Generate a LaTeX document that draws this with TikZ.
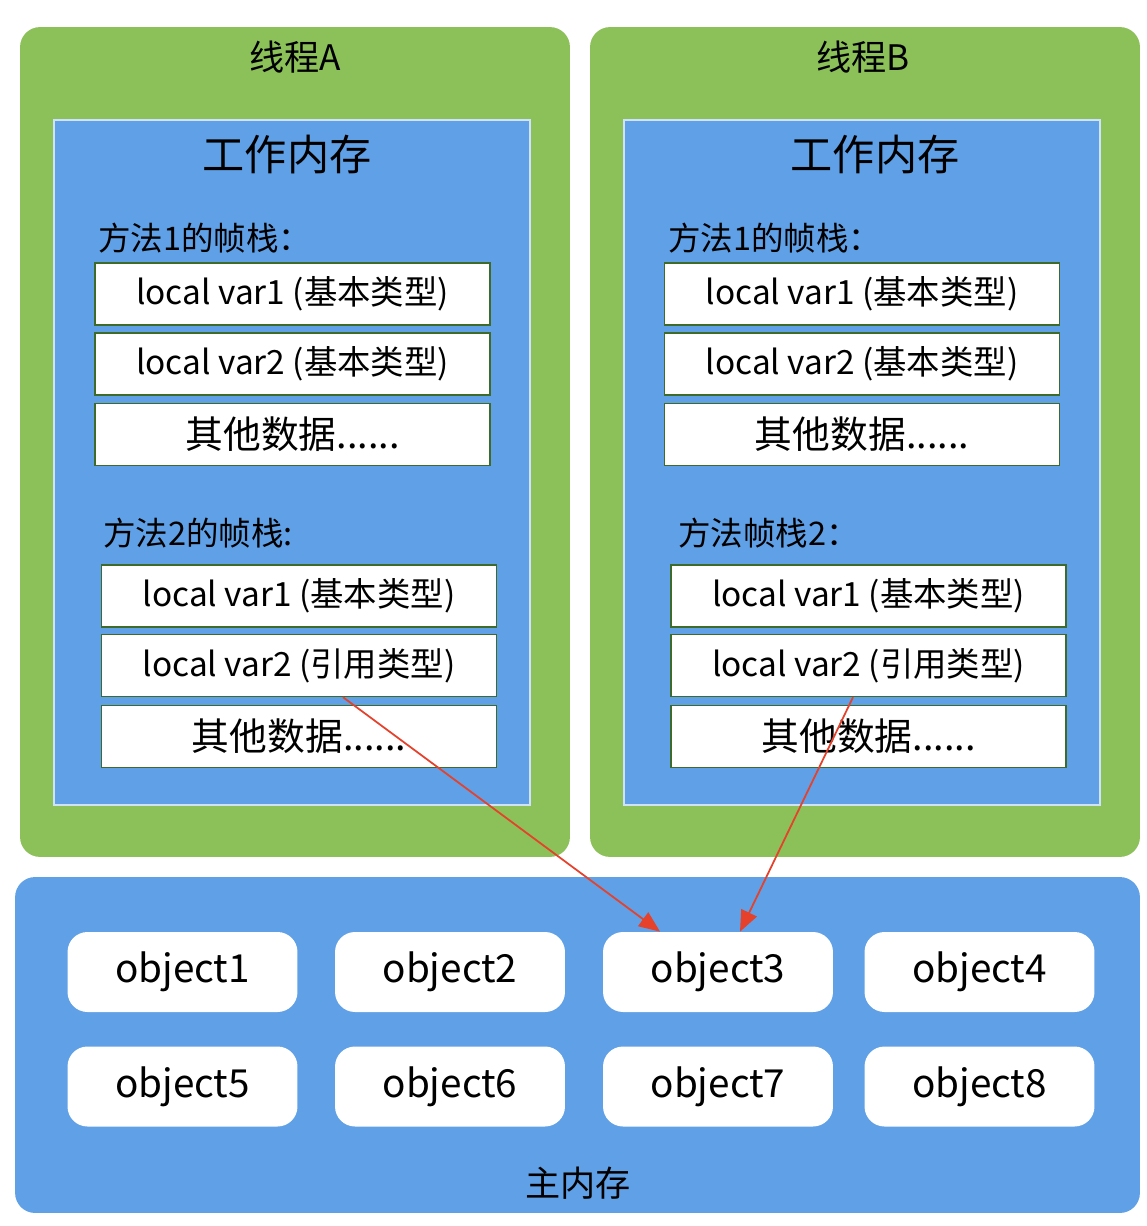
\documentclass[tikz,border=0pt]{standalone}
\usepackage{fontspec}
\setmainfont{Noto Sans CJK SC}
\usetikzlibrary{arrows.meta,positioning}
\definecolor{threadgreen}{HTML}{8CC058}
\definecolor{memblue}{HTML}{5FA0E6}
\definecolor{slotborder}{HTML}{3E6B2A}
\definecolor{refred}{HTML}{E5412B}
\tikzset{
  thread/.style={fill=threadgreen, rounded corners=0.4cm, minimum width=11cm, minimum height=16.6cm},
  workmem/.style={fill=memblue, draw=white!70!memblue, line width=1.2pt, minimum width=9.52cm, minimum height=13.7cm},
  slot/.style={fill=white, draw=slotborder, line width=0.8pt, minimum width=7.9cm, minimum height=1.24cm, font=\fontsize{19}{22}\selectfont},
  other/.style={slot, font=\fontsize{21.5}{25}\selectfont},
  framelabel/.style={anchor=west, font=\fontsize{18.5}{22}\selectfont},
  obj/.style={fill=white, rounded corners=0.4cm, minimum width=4.6cm, minimum height=1.6cm, font=\fontsize{22}{26}\selectfont},
  refarrow/.style={refred, line width=1pt, -{Triangle[length=0.42cm,width=0.34cm]}}
}

\begin{document}
\begin{tikzpicture}[x=0.02cm,y=-0.02cm]
        \useasboundingbox (0,0) rectangle (1146,1226);
        % Thread A
        \node[thread] (threadA) at (295,442) {};
        \node[font=\fontsize{20}{24}\selectfont] (titleA) at (295,57) {线程A};
        \node[workmem] (workA) at (292,462.5) {};
        \node[font=\fontsize{24}{28}\selectfont] (wtitleA) at (287,155) {工作内存};
        \node[framelabel] (fA1) at (92,238) {方法1的帧栈：};
        \node[slot] (a1v1) at (292.5,294) {local var1 (基本类型)};
        \node[slot] (a1v2) at (292.5,364) {local var2 (基本类型)};
        \node[other] (a1x) at (292.5,434.5) {其他数据......};
        \node[framelabel] (fA2) at (97,533) {方法2的帧栈:};
        \node[slot] (a2v1) at (299,596) {local var1 (基本类型)};
        \node[slot] (a2v2) at (299,665.5) {local var2 (引用类型)};
        \node[other] (a2x) at (299,736.5) {其他数据......};

        % Thread B
        \node[thread] (threadB) at (865,442) {};
        \node[font=\fontsize{20}{24}\selectfont] (titleB) at (863,57) {线程B};
        \node[workmem] (workB) at (862,462.5) {};
        \node[font=\fontsize{24}{28}\selectfont] (wtitleB) at (875,155) {工作内存};
        \node[framelabel] (fB1) at (662,238) {方法1的帧栈：};
        \node[slot] (b1v1) at (862,294) {local var1 (基本类型)};
        \node[slot] (b1v2) at (862,364) {local var2 (基本类型)};
        \node[other] (b1x) at (862,434.5) {其他数据......};
        \node[framelabel] (fB2) at (672,533) {方法帧栈2：};
        \node[slot] (b2v1) at (868.5,596) {local var1 (基本类型)};
        \node[slot] (b2v2) at (868.5,665.5) {local var2 (引用类型)};
        \node[other] (b2x) at (868.5,736.5) {其他数据......};

        % Main memory
        \node[fill=memblue, rounded corners=0.4cm, minimum width=22.5cm, minimum height=6.72cm] (main) at (577.5,1045) {};
        \node[obj] (o1) at (182.5,972) {object1};
        \node[obj] (o2) at (450,972) {object2};
        \node[obj] (o3) at (718,972) {object3};
        \node[obj] (o4) at (979.5,972) {object4};
        \node[obj] (o5) at (182.5,1086.5) {object5};
        \node[obj] (o6) at (450,1086.5) {object6};
        \node[obj] (o7) at (718,1086.5) {object7};
        \node[obj] (o8) at (979.5,1086.5) {object8};
        \node[font=\fontsize{20}{24}\selectfont] (mtitle) at (578,1183) {主内存};

        % References
        \draw[refarrow] ([xshift=0.88cm]a2v2.south) -- ([xshift=-1.16cm]o3.north);
        \draw[refarrow] ([xshift=-0.31cm]b2v2.south) -- ([xshift=0.44cm]o3.north);
    \end{tikzpicture}
\end{document}
